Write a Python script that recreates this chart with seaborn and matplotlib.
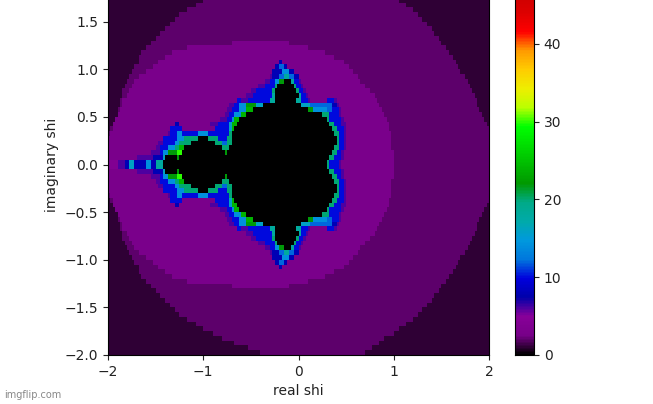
import matplotlib
matplotlib.use('Agg')
import matplotlib.pyplot as plt
import seaborn as sns
import numpy as np
import pandas as pd

# escape counts, lower half only (the picture mirrors at y=0)
# each row: (x where the run ends, count), from y=-1.975 up to y=-0.025
rows_lower = [
    [(-.40,1),(.71,2),(2,1)],
    [(-.52,1),(.78,2),(2,1)],
    [(-.67,1),(.84,2),(2,1)],
    [(-.80,1),(.91,2),(2,1)],
    [(-.90,1),(.99,2),(2,1)],
    [(-.99,1),(1.05,2),(2,1)],
    [(-1.08,1),(1.12,2),(2,1)],
    [(-1.17,1),(1.19,2),(2,1)],
    [(-1.24,1),(1.26,2),(2,1)],
    [(-1.30,1),(1.31,2),(2,1)],
    [(-1.36,1),(1.35,2),(2,1)],
    [(-1.41,1),(1.39,2),(2,1)],
    [(-1.46,1),(1.43,2),(2,1)],
    [(-1.51,1),(1.47,2),(2,1)],
    [(-1.55,1),(-.7,2),(-.1,3),(1.51,2),(2,1)],
    [(-1.6,1),(-1.18,2),(.10,3),(1.55,2),(2,1)],
    [(-1.64,1),(-1.32,2),(.27,3),(1.58,2),(2,1)],
    [(-1.67,1),(-1.40,2),(.38,3),(1.62,2),(2,1)],
    [(-1.68,1),(-1.47,2),(-.21,3),(-.17,8),(.47,3),(1.65,2),(2,1)],
    [(-1.72,1),(-1.53,2),(-.24,3),(-.2,8),(-.16,12),(-.13,8),(.53,3),(1.68,2),(2,1)],
    [(-1.74,1),(-1.60,2),(-.27,3),(-.18,8),(-.1,14),(-.05,8),(.58,3),(1.71,2),(2,1)],
    [(-1.77,1),(-1.68,2),(-.3,3),(-.27,6),(-.2,8),(-.15,12),(-.1,18),(-.06,12),(0,8),(.62,3),(1.74,2),(2,1)],
    [(-1.80,1),(-1.72,2),(-.36,3),(-.31,6),(-.26,10),(-.2,14),(-.16,22),(-.08,0),(-.05,18),(0,10),(.03,6),(.65,3),(1.77,2),(2,1)],
    [(-1.82,1),(-1.76,2),(-.42,3),(-.35,6),(-.26,10),(-.23,20),(-.05,0),(-.02,20),(.02,10),(.05,6),(.7,3),(1.80,2),(2,1)],
    [(-1.84,1),(-1.78,2),(-.49,3),(-.44,6),(-.28,10),(-.25,20),(-.03,0),(0,20),(.04,10),(.07,6),(.74,3),(1.83,2),(2,1)],
    [(-1.85,1),(-1.81,2),(-.54,3),(-.47,6),(-.28,10),(-.25,18),(-.01,0),(.02,18),(.07,10),(.1,6),(.79,3),(1.85,2),(2,1)],
    [(-1.87,1),(-1.84,2),(-.66,3),(-.6,10),(-.52,6),(-.3,10),(-.26,18),(-.03,0),(.02,18),(.1,10),(.13,6),(.3,3),(.37,10),(.39,6),(.82,3),(1.87,2),(2,1)],
    [(-1.88,1),(-1.86,2),(-.72,3),(-.67,6),(-.62,10),(-.55,14),(-.45,22),(-.38,16),(.03,0),(.12,16),(.36,12),(.4,8),(.43,6),(.85,3),(1.88,2),(2,1)],
    [(-1.89,1),(-1.88,2),(-.75,3),(-.7,6),(-.62,10),(-.54,14),(-.48,24),(.09,0),(.14,22),(.3,14),(.34,12),(.42,10),(.45,6),(.88,3),(1.9,2),(2,1)],
    [(-1.91,1),(-1.9,2),(-.78,3),(-.73,6),(-.67,10),(-.6,14),(-.55,24),(.26,0),(.32,20),(.43,10),(.46,6),(.91,3),(1.93,2),(2,1)],
    [(-1.93,1),(-1.92,2),(-.82,3),(-.76,6),(-.7,10),(-.67,14),(-.63,24),(.29,0),(.32,20),(.45,10),(.48,6),(.93,3),(1.96,2),(2,1)],
    [(-1.95,1),(-1.94,2),(-1.3,3),(-1.24,8),(-.93,3),(-.85,6),(-.72,10),(-.69,16),(-.65,24),(.33,0),(.37,20),(.46,10),(.5,6),(.95,3),(1.98,2),(2,1)],
    [(-1.97,1),(-1.96,2),(-1.36,3),(-1.23,10),(-.88,3),(-.72,10),(-.69,16),(-.67,24),(.36,0),(.4,20),(.47,10),(.5,6),(.96,3),(2,2)],
    [(-1.99,1),(-1.98,2),(-1.38,3),(-1.36,6),(-1.27,10),(-1.22,14),(-1.05,10),(-.95,14),(-.72,10),(-.7,20),(.38,0),(.42,20),(.47,10),(.5,6),(.97,3),(2,2)],
    [(-1.42,3),(-1.27,10),(-1.2,14),(-1.06,20),(-.94,0),(-.85,20),(-.74,10),(-.69,20),(.39,0),(.43,20),(.48,10),(.5,6),(.98,3),(2,2)],
    [(-1.47,3),(-1.42,6),(-1.3,10),(-1.24,14),(-1.12,20),(-.88,0),(-.8,20),(-.74,12),(-.71,20),(.39,0),(.43,20),(.48,10),(.5,6),(.98,3),(2,2)],
    [(-1.5,3),(-1.44,6),(-1.38,10),(-1.3,14),(-1.24,20),(-1.19,24),(-.81,0),(-.73,20),(.38,0),(.42,20),(.47,10),(.5,6),(.98,3),(2,2)],
    [(-1.55,3),(-1.46,6),(-1.42,10),(-1.38,14),(-1.27,22),(-1.22,30),(-.78,0),(-.74,22),(.36,0),(.4,20),(.46,10),(.48,6),(.99,3),(2,2)],
    [(-1.7,3),(-1.52,6),(-1.42,8),(-1.39,16),(-1.27,0),(-1.24,22),(-.76,0),(-.74,22),(.33,0),(.37,20),(.44,10),(.47,6),(.99,3),(2,2)],
    [(-1.9,4),(-1.82,6),(-1.78,8),(-1.76,16),(-1.74,0),(-1.72,16),(-1.6,8),(-1.56,14),(-1.5,8),(-1.42,18),(.29,0),(.33,20),(.42,10),(.45,6),(.99,3),(2,2)],
]

x_ticks = [-2, -1, 0, 1, 2]
y_ticks = [-2.0, -1.5, -1.0, -0.5, 0.0, 0.5, 1.0, 1.5]
cbar_ticks = [0, 10, 20, 30, 40]

# spread the runs onto the cells of the heatmap
dx = 0.025
dy = 0.05
x_cells = -2 + dx * (np.arange(160) + 0.5)
lower = []
for row in rows_lower:
    ends = np.array([r[0] for r in row])
    vals = np.array([r[1] for r in row])
    lower.append(vals[np.searchsorted(ends, x_cells).clip(0, len(vals) - 1)])
lower = np.array(lower)
grid = pd.DataFrame(np.vstack([lower, lower[::-1]]))

W, H = 653, 404
fig = plt.figure(figsize=(W / 100, H / 100), dpi=100)
ax = fig.add_axes([108 / W, (H - 355) / H, 381 / W, 381 / H])
cax = fig.add_axes([515 / W, (H - 355) / H, 19 / W, 381 / H])

sns.heatmap(grid, ax=ax, cbar_ax=cax, cmap='nipy_spectral', vmin=0, vmax=49,
            xticklabels=False, yticklabels=False, rasterized=True)
ax.set_ylim(0, len(grid))
ax.set_xlim(0, grid.shape[1])

for s in ax.spines.values():
    s.set_visible(True)
    s.set_linewidth(0.8)
ax.set_xticks([(t + 2) / dx for t in x_ticks])
ax.set_xticklabels([str(t).replace('-', '\u2212') for t in x_ticks], rotation=0)
ax.set_yticks([(t + 2) / dy for t in y_ticks])
ax.set_yticklabels([f'{t:.1f}'.replace('-', '\u2212') for t in y_ticks], rotation=0)
ax.tick_params(length=3.5, width=0.8, labelsize=10, colors='#222222')
ax.set_xlabel('real shi', fontsize=10, color='#222222')
ax.set_ylabel('imaginary shi', fontsize=10, color='#222222')

cbar = ax.collections[0].colorbar
cbar.set_ticks(cbar_ticks)
cbar.ax.tick_params(length=3.5, width=0.8, labelsize=10, colors='#222222')
cbar.outline.set_visible(True)
cbar.outline.set_linewidth(0.8)

fig.text(4 / W, (H - 395) / H, 'imgflip.com', fontsize=7, color='#888888', va='center')

fig.savefig('out.png', dpi=100)
